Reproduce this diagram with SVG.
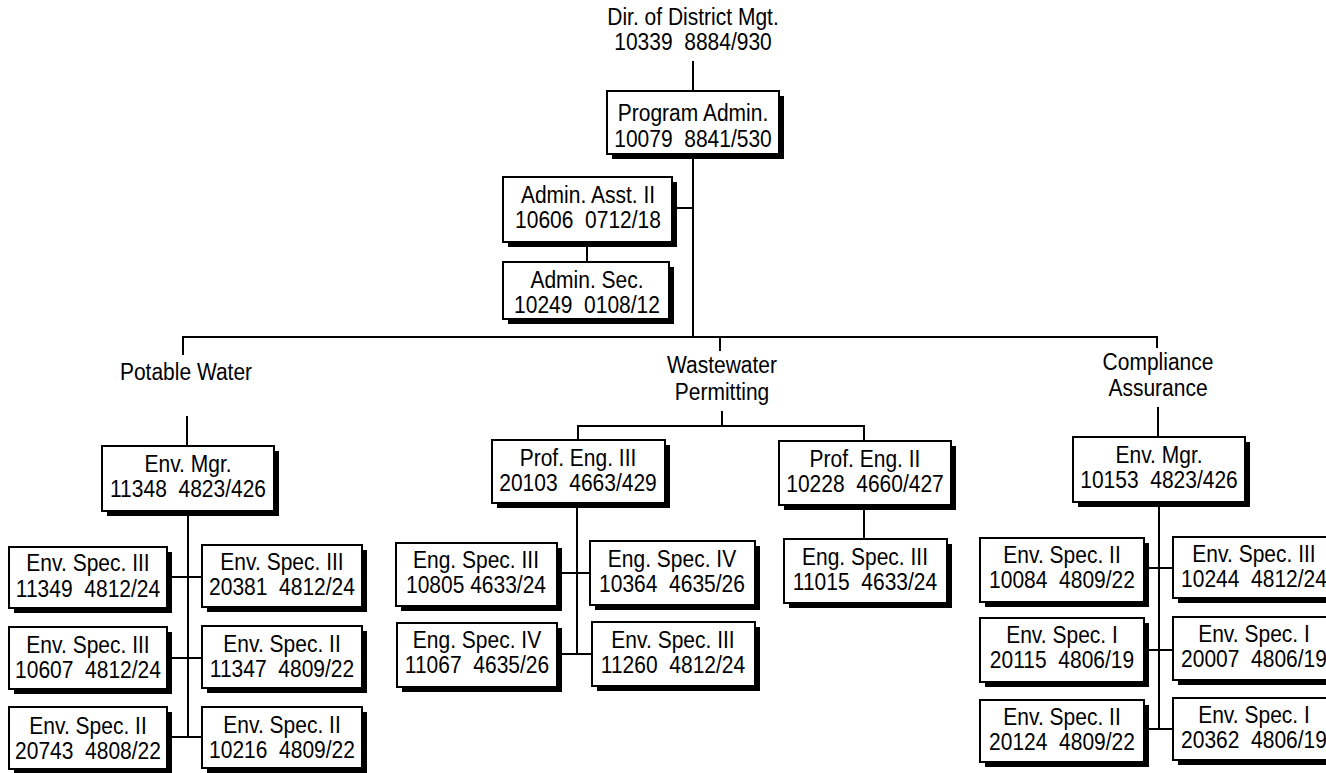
<svg xmlns="http://www.w3.org/2000/svg" width="1326" height="773" viewBox="0 0 1326 773">
  <style>
    .sh { fill: #000; }
    .bx { fill: #fff; stroke: #000; stroke-width: 2; }
    .t { font-family: "Liberation Sans", Arial, Helvetica, sans-serif; font-size: 21px; fill: #000; text-anchor: middle; }
    .ln { stroke: #000; stroke-width: 2; fill: none; stroke-linecap: square; }
  </style>
  <rect width="1326" height="773" fill="#fff"/>

  <!-- connectors -->
  <g id="connectors" class="ln">
    <line x1="693" y1="62" x2="693" y2="91"/>
    <line x1="693" y1="154" x2="693" y2="337"/>
    <line x1="672" y1="208" x2="693" y2="208"/>
    <line x1="587" y1="242" x2="587" y2="262"/>
    <line x1="183" y1="337" x2="1157" y2="337"/>
    <line x1="183" y1="337" x2="183" y2="354"/>
    <line x1="720" y1="337" x2="720" y2="350"/>
    <line x1="1157" y1="337" x2="1157" y2="347"/>
    <!-- potable water -->
    <line x1="187" y1="417" x2="187" y2="446"/>
    <line x1="188" y1="511" x2="188" y2="737"/>
    <line x1="167" y1="577" x2="202" y2="577"/>
    <line x1="167" y1="658" x2="202" y2="658"/>
    <line x1="167" y1="737" x2="202" y2="737"/>
    <!-- wastewater permitting -->
    <line x1="722" y1="412" x2="722" y2="426"/>
    <line x1="578" y1="426" x2="864" y2="426"/>
    <line x1="578" y1="426" x2="578" y2="440"/>
    <line x1="864" y1="426" x2="864" y2="441"/>
    <line x1="577" y1="503" x2="577" y2="654"/>
    <line x1="557" y1="573" x2="590" y2="573"/>
    <line x1="557" y1="654" x2="592" y2="654"/>
    <line x1="864" y1="505" x2="864" y2="539"/>
    <!-- compliance assurance -->
    <line x1="1158" y1="408" x2="1158" y2="437"/>
    <line x1="1159" y1="502" x2="1159" y2="729"/>
    <line x1="1144" y1="568" x2="1173" y2="568"/>
    <line x1="1144" y1="650" x2="1173" y2="650"/>
    <line x1="1144" y1="729" x2="1173" y2="729"/>
  </g>

  <!-- heading labels -->
  <g id="director">
    <text class="t" transform="translate(693 25) scale(1 1.1)">Dir. of District Mgt.</text>
    <text class="t" transform="translate(693 50) scale(1 1.1)">10339&#160;&#160;8884/930</text>
  </g>
  <g id="label-potable">
    <text class="t" transform="translate(186 380) scale(1 1.1)">Potable Water</text>
  </g>
  <g id="label-wastewater">
    <text class="t" transform="translate(722 373) scale(1 1.1)">Wastewater</text>
    <text class="t" transform="translate(722 400) scale(1 1.1)">Permitting</text>
  </g>
  <g id="label-compliance">
    <text class="t" transform="translate(1158 370) scale(1 1.1)">Compliance</text>
    <text class="t" transform="translate(1158 396) scale(1 1.1)">Assurance</text>
  </g>

  <!-- administration -->
  <g id="prog-admin">
    <rect class="sh" x="612" y="96" width="172" height="63"/>
    <rect class="bx" x="607" y="91" width="172" height="63"/>
    <text class="t" transform="translate(693 121) scale(1 1.1)">Program Admin.</text>
    <text class="t" transform="translate(693 147) scale(1 1.1)">10079&#160;&#160;8841/530</text>
  </g>
  <g id="admin-asst">
    <rect class="sh" x="508" y="182" width="169" height="65"/>
    <rect class="bx" x="503" y="177" width="169" height="65"/>
    <text class="t" transform="translate(588 203) scale(1 1.1)">Admin. Asst. II</text>
    <text class="t" transform="translate(588 228) scale(1 1.1)">10606&#160;&#160;0712/18</text>
  </g>
  <g id="admin-sec">
    <rect class="sh" x="508" y="267" width="166" height="57"/>
    <rect class="bx" x="503" y="262" width="166" height="57"/>
    <text class="t" transform="translate(587 288) scale(1 1.1)">Admin. Sec.</text>
    <text class="t" transform="translate(587 313) scale(1 1.1)">10249&#160;&#160;0108/12</text>
  </g>

  <!-- potable water -->
  <g id="pw-mgr">
    <rect class="sh" x="107" y="451" width="172" height="65"/>
    <rect class="bx" x="102" y="446" width="172" height="65"/>
    <text class="t" transform="translate(188 472) scale(1 1.1)">Env. Mgr.</text>
    <text class="t" transform="translate(188 497) scale(1 1.1)">11348&#160;&#160;4823/426</text>
  </g>
  <g id="pw-11349">
    <rect class="sh" x="14" y="552" width="158" height="61"/>
    <rect class="bx" x="9" y="547" width="158" height="61"/>
    <text class="t" transform="translate(88 571) scale(1 1.1)">Env. Spec. III</text>
    <text class="t" transform="translate(88 597) scale(1 1.1)">11349&#160;&#160;4812/24</text>
  </g>
  <g id="pw-20381">
    <rect class="sh" x="207" y="550" width="160" height="62"/>
    <rect class="bx" x="202" y="545" width="160" height="62"/>
    <text class="t" transform="translate(282 570) scale(1 1.1)">Env. Spec. III</text>
    <text class="t" transform="translate(282 595) scale(1 1.1)">20381&#160;&#160;4812/24</text>
  </g>
  <g id="pw-10607">
    <rect class="sh" x="14" y="632" width="158" height="62"/>
    <rect class="bx" x="9" y="627" width="158" height="62"/>
    <text class="t" transform="translate(88 653) scale(1 1.1)">Env. Spec. III</text>
    <text class="t" transform="translate(88 678) scale(1 1.1)">10607&#160;&#160;4812/24</text>
  </g>
  <g id="pw-11347">
    <rect class="sh" x="207" y="631" width="160" height="62"/>
    <rect class="bx" x="202" y="626" width="160" height="62"/>
    <text class="t" transform="translate(282 652) scale(1 1.1)">Env. Spec. II</text>
    <text class="t" transform="translate(282 677) scale(1 1.1)">11347&#160;&#160;4809/22</text>
  </g>
  <g id="pw-20743">
    <rect class="sh" x="14" y="712" width="158" height="62"/>
    <rect class="bx" x="9" y="707" width="158" height="62"/>
    <text class="t" transform="translate(88 734) scale(1 1.1)">Env. Spec. II</text>
    <text class="t" transform="translate(88 759) scale(1 1.1)">20743&#160;&#160;4808/22</text>
  </g>
  <g id="pw-10216">
    <rect class="sh" x="207" y="712" width="160" height="61"/>
    <rect class="bx" x="202" y="707" width="160" height="61"/>
    <text class="t" transform="translate(282 733) scale(1 1.1)">Env. Spec. II</text>
    <text class="t" transform="translate(282 758) scale(1 1.1)">10216&#160;&#160;4809/22</text>
  </g>

  <!-- wastewater permitting -->
  <g id="ww-20103">
    <rect class="sh" x="497" y="445" width="173" height="63"/>
    <rect class="bx" x="492" y="440" width="173" height="63"/>
    <text class="t" transform="translate(578 466) scale(1 1.1)">Prof. Eng. III</text>
    <text class="t" transform="translate(578 491) scale(1 1.1)">20103&#160;&#160;4663/429</text>
  </g>
  <g id="ww-10228">
    <rect class="sh" x="784" y="446" width="172" height="64"/>
    <rect class="bx" x="779" y="441" width="172" height="64"/>
    <text class="t" transform="translate(865 467) scale(1 1.1)">Prof. Eng. II</text>
    <text class="t" transform="translate(865 492) scale(1 1.1)">10228&#160;&#160;4660/427</text>
  </g>
  <g id="ww-10805">
    <rect class="sh" x="401" y="548" width="161" height="63"/>
    <rect class="bx" x="396" y="543" width="161" height="63"/>
    <text class="t" transform="translate(476 568) scale(1 1.1)">Eng. Spec. III</text>
    <text class="t" transform="translate(476 593) scale(1 1.1)">10805 4633/24</text>
  </g>
  <g id="ww-10364">
    <rect class="sh" x="595" y="546" width="165" height="64"/>
    <rect class="bx" x="590" y="541" width="165" height="64"/>
    <text class="t" transform="translate(672 567) scale(1 1.1)">Eng. Spec. IV</text>
    <text class="t" transform="translate(672 592) scale(1 1.1)">10364&#160;&#160;4635/26</text>
  </g>
  <g id="ww-11067">
    <rect class="sh" x="402" y="628" width="160" height="64"/>
    <rect class="bx" x="397" y="623" width="160" height="64"/>
    <text class="t" transform="translate(477 648) scale(1 1.1)">Eng. Spec. IV</text>
    <text class="t" transform="translate(477 673) scale(1 1.1)">11067&#160;&#160;4635/26</text>
  </g>
  <g id="ww-11260">
    <rect class="sh" x="597" y="627" width="163" height="64"/>
    <rect class="bx" x="592" y="622" width="163" height="64"/>
    <text class="t" transform="translate(673 648) scale(1 1.1)">Env. Spec. III</text>
    <text class="t" transform="translate(673 673) scale(1 1.1)">11260&#160;&#160;4812/24</text>
  </g>
  <g id="ww-11015">
    <rect class="sh" x="789" y="544" width="163" height="64"/>
    <rect class="bx" x="784" y="539" width="163" height="64"/>
    <text class="t" transform="translate(865 565) scale(1 1.1)">Eng. Spec. III</text>
    <text class="t" transform="translate(865 590) scale(1 1.1)">11015&#160;&#160;4633/24</text>
  </g>

  <!-- compliance assurance -->
  <g id="ca-mgr">
    <rect class="sh" x="1078" y="442" width="172" height="65"/>
    <rect class="bx" x="1073" y="437" width="172" height="65"/>
    <text class="t" transform="translate(1159 463) scale(1 1.1)">Env. Mgr.</text>
    <text class="t" transform="translate(1159 488) scale(1 1.1)">10153&#160;&#160;4823/426</text>
  </g>
  <g id="ca-10084">
    <rect class="sh" x="985" y="543" width="164" height="64"/>
    <rect class="bx" x="980" y="538" width="164" height="64"/>
    <text class="t" transform="translate(1062 563) scale(1 1.1)">Env. Spec. II</text>
    <text class="t" transform="translate(1062 588) scale(1 1.1)">10084&#160;&#160;4809/22</text>
  </g>
  <g id="ca-10244">
    <rect class="sh" x="1178" y="542" width="162" height="61"/>
    <rect class="bx" x="1173" y="537" width="162" height="61"/>
    <text class="t" transform="translate(1254 562) scale(1 1.1)">Env. Spec. III</text>
    <text class="t" transform="translate(1254 587) scale(1 1.1)">10244&#160;&#160;4812/24</text>
  </g>
  <g id="ca-20115">
    <rect class="sh" x="985" y="623" width="164" height="64"/>
    <rect class="bx" x="980" y="618" width="164" height="64"/>
    <text class="t" transform="translate(1062 643) scale(1 1.1)">Env. Spec. I</text>
    <text class="t" transform="translate(1062 668) scale(1 1.1)">20115&#160;&#160;4806/19</text>
  </g>
  <g id="ca-20007">
    <rect class="sh" x="1178" y="622" width="162" height="63"/>
    <rect class="bx" x="1173" y="617" width="162" height="63"/>
    <text class="t" transform="translate(1254 642) scale(1 1.1)">Env. Spec. I</text>
    <text class="t" transform="translate(1254 667) scale(1 1.1)">20007&#160;&#160;4806/19</text>
  </g>
  <g id="ca-20124">
    <rect class="sh" x="985" y="705" width="164" height="62"/>
    <rect class="bx" x="980" y="700" width="164" height="62"/>
    <text class="t" transform="translate(1062 725) scale(1 1.1)">Env. Spec. II</text>
    <text class="t" transform="translate(1062 750) scale(1 1.1)">20124&#160;&#160;4809/22</text>
  </g>
  <g id="ca-20362">
    <rect class="sh" x="1178" y="703" width="162" height="62"/>
    <rect class="bx" x="1173" y="698" width="162" height="62"/>
    <text class="t" transform="translate(1254 723) scale(1 1.1)">Env. Spec. I</text>
    <text class="t" transform="translate(1254 748) scale(1 1.1)">20362&#160;&#160;4806/19</text>
  </g>
</svg>
